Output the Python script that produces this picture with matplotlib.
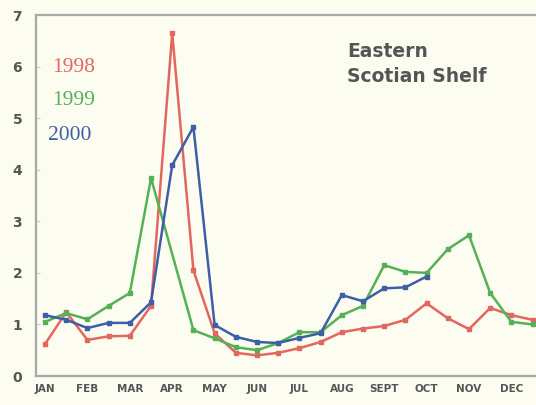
import matplotlib
matplotlib.use("Agg")
import matplotlib.pyplot as plt
import numpy as np

months = ['JAN', 'FEB', 'MAR', 'APR', 'MAY', 'JUN', 'JUL', 'AUG', 'SEPT', 'OCT', 'NOV', 'DEC']

# twice-monthly samples, index 0..23
y1998 = [0.62, 1.24, 0.70, 0.77, 0.78, 1.36, 6.65, 2.05, 0.83, 0.45, 0.40, 0.45,
         0.54, 0.66, 0.85, 0.92, 0.97, 1.09, 1.41, 1.12, 0.91, 1.32, 1.18, 1.09]
y1999 = [1.05, 1.22, 1.10, 1.36, 1.61, 3.84, None, 0.89, 0.73, 0.56, 0.50, 0.64,
         0.85, 0.85, 1.18, 1.36, 2.15, 2.02, 2.00, 2.46, 2.73, 1.61, 1.05, 1.00]
y2000 = [1.18, 1.09, 0.93, 1.03, 1.03, 1.43, 4.09, 4.83, 0.99, 0.76, 0.66, 0.64,
         0.74, 0.83, 1.57, 1.45, 1.70, 1.72, 1.93]

series = [('1998', y1998, '#e3665f'), ('1999', y1999, '#55b155'), ('2000', y2000, '#3c5fa6')]

bg = '#fdfcf1'
fig = plt.figure(figsize=(5.36, 4.05), dpi=100, facecolor=bg)
ax = fig.add_axes([0.0672, 0.0716, 0.9328, 0.891], facecolor=bg)

for name, vals, col in series:
    xs = [i for i, v in enumerate(vals) if v is not None]
    ys = [v for v in vals if v is not None]
    ax.plot(xs, ys, color=col, lw=1.8, marker='s', ms=3, mec=col, mfc=col)

ax.set_xlim(-0.425, 23.16)
ax.set_ylim(0, 7)
ax.set_yticks(range(8))
ax.set_yticklabels([str(i) for i in range(8)], fontsize=10, fontweight='bold', color='#555555')
ax.set_xticks(np.arange(0, 24, 2))
ax.set_xticklabels(months, fontsize=7.5, fontweight='bold', color='#555555')
ax.tick_params(axis='y', direction='in', length=3, color='#c8c8c8', pad=10)
ax.tick_params(axis='x', length=0, pad=6)

for s in ['left', 'bottom', 'top']:
    ax.spines[s].set_color('#a8a8a8')
    ax.spines[s].set_linewidth(1.6)
ax.spines['right'].set_visible(False)

ax.text(0.33, 5.99, '1998', color='#e3665f', fontsize=15.5, family='Liberation Serif', va='center')
ax.text(0.33, 5.35, '1999', color='#55b155', fontsize=15.5, family='Liberation Serif', va='center')
ax.text(0.14, 4.67, '2000', color='#3c5fa6', fontsize=15.5, family='Liberation Serif', va='center')

ax.text(14.25, 6.05, 'Eastern\nScotian Shelf', color='#555555', fontsize=13.5,
        fontweight='bold', va='center', ha='left', linespacing=1.35)

fig.savefig('out.png', dpi=100, facecolor=bg)
